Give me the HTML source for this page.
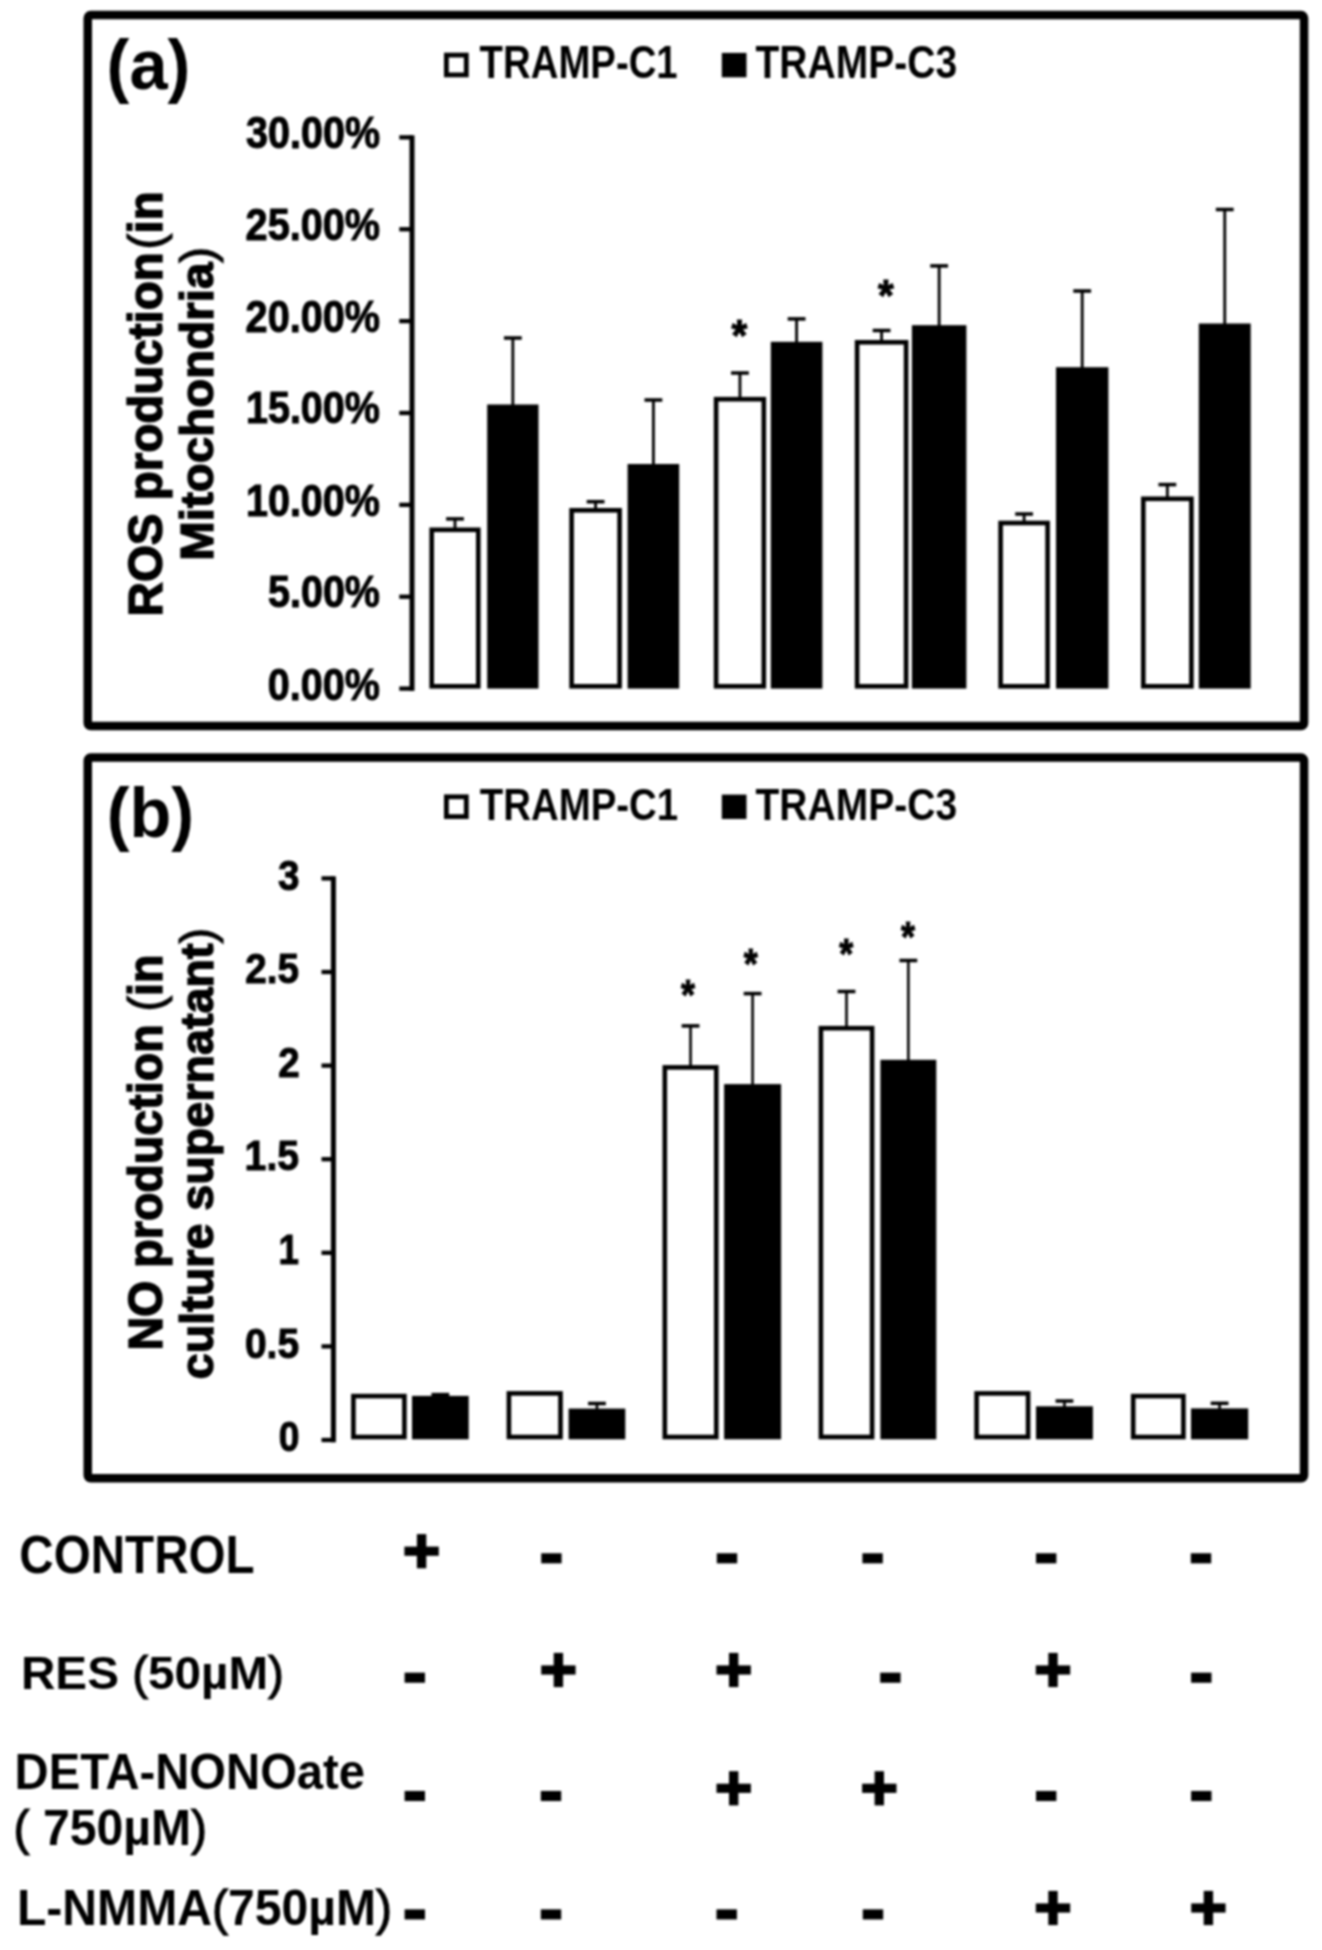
<!DOCTYPE html>
<html><head><meta charset="utf-8"><title>ROS and NO production in TRAMP-C1 and TRAMP-C3 cells</title>
<style>html,body{margin:0;padding:0;background:#fff;}body{width:1322px;height:1950px;overflow:hidden;}svg{display:block;filter:grayscale(100%) blur(1px);}</style>
</head><body>
<svg width="1322" height="1950" viewBox="0 0 1322 1950">
<rect x="0" y="0" width="1322" height="1950" fill="#fff"/>
<g fill="#000">
<rect x="87.75" y="15.05" width="1216.30" height="711.00" rx="3" fill="none" stroke="#000" stroke-width="8.5"/>
<rect x="87.75" y="757.55" width="1216.30" height="720.80" rx="3" fill="none" stroke="#000" stroke-width="8.5"/>
<rect x="409.50" y="135.28" width="5.00" height="555.62"/>
<rect x="399.30" y="686.45" width="12.70" height="4.30"/>
<rect x="399.30" y="594.58" width="12.70" height="4.30"/>
<rect x="399.30" y="502.71" width="12.70" height="4.30"/>
<rect x="399.30" y="410.84" width="12.70" height="4.30"/>
<rect x="399.30" y="318.97" width="12.70" height="4.30"/>
<rect x="399.30" y="227.10" width="12.70" height="4.30"/>
<rect x="399.30" y="135.23" width="12.70" height="4.30"/>
<rect x="453.60" y="518.90" width="2.80" height="9.60"/>
<rect x="446.10" y="517.15" width="17.80" height="3.50"/>
<rect x="431.70" y="529.80" width="46.60" height="156.50" fill="#fff" stroke="#000" stroke-width="4.6"/>
<rect x="511.45" y="338.00" width="2.80" height="67.50"/>
<rect x="503.95" y="336.25" width="17.80" height="3.50"/>
<rect x="487.20" y="404.50" width="51.30" height="284.10"/>
<rect x="594.20" y="501.70" width="2.80" height="7.30"/>
<rect x="586.70" y="499.95" width="17.80" height="3.50"/>
<rect x="571.60" y="510.30" width="48.00" height="176.00" fill="#fff" stroke="#000" stroke-width="4.6"/>
<rect x="652.00" y="400.00" width="2.80" height="65.00"/>
<rect x="644.50" y="398.25" width="17.80" height="3.50"/>
<rect x="627.60" y="464.00" width="51.60" height="224.60"/>
<rect x="738.55" y="373.00" width="2.80" height="24.90"/>
<rect x="731.05" y="371.25" width="17.80" height="3.50"/>
<rect x="716.10" y="399.20" width="47.70" height="287.10" fill="#fff" stroke="#000" stroke-width="4.6"/>
<rect x="795.20" y="318.90" width="2.80" height="23.90"/>
<rect x="787.70" y="317.15" width="17.80" height="3.50"/>
<rect x="770.80" y="341.80" width="51.60" height="346.80"/>
<rect x="880.20" y="330.50" width="2.80" height="10.50"/>
<rect x="872.70" y="328.75" width="17.80" height="3.50"/>
<rect x="857.10" y="342.30" width="49.00" height="344.00" fill="#fff" stroke="#000" stroke-width="4.6"/>
<rect x="937.75" y="265.90" width="2.80" height="60.30"/>
<rect x="930.25" y="264.15" width="17.80" height="3.50"/>
<rect x="911.90" y="325.20" width="54.50" height="363.40"/>
<rect x="1022.70" y="514.00" width="2.80" height="7.70"/>
<rect x="1015.20" y="512.25" width="17.80" height="3.50"/>
<rect x="1000.60" y="523.00" width="47.00" height="163.30" fill="#fff" stroke="#000" stroke-width="4.6"/>
<rect x="1080.80" y="291.00" width="2.80" height="77.20"/>
<rect x="1073.30" y="289.25" width="17.80" height="3.50"/>
<rect x="1056.00" y="367.20" width="52.40" height="321.40"/>
<rect x="1165.95" y="484.60" width="2.80" height="12.90"/>
<rect x="1158.45" y="482.85" width="17.80" height="3.50"/>
<rect x="1143.30" y="498.80" width="48.10" height="187.50" fill="#fff" stroke="#000" stroke-width="4.6"/>
<rect x="1223.35" y="209.50" width="2.80" height="115.00"/>
<rect x="1215.85" y="207.75" width="17.80" height="3.50"/>
<rect x="1198.80" y="323.50" width="51.90" height="365.10"/>
<rect x="330.90" y="876.30" width="5.00" height="566.00"/>
<rect x="321.50" y="1437.85" width="11.90" height="4.30"/>
<rect x="321.50" y="1344.25" width="11.90" height="4.30"/>
<rect x="321.50" y="1250.65" width="11.90" height="4.30"/>
<rect x="321.50" y="1157.05" width="11.90" height="4.30"/>
<rect x="321.50" y="1063.45" width="11.90" height="4.30"/>
<rect x="321.50" y="969.85" width="11.90" height="4.30"/>
<rect x="321.50" y="876.25" width="11.90" height="4.30"/>
<rect x="353.40" y="1396.10" width="51.00" height="40.90" fill="#fff" stroke="#000" stroke-width="4.6"/>
<rect x="439.05" y="1394.60" width="2.60" height="2.30"/>
<rect x="431.45" y="1392.85" width="17.80" height="3.50"/>
<rect x="412.00" y="1395.90" width="56.70" height="43.40"/>
<rect x="508.90" y="1393.40" width="51.60" height="43.60" fill="#fff" stroke="#000" stroke-width="4.6"/>
<rect x="595.65" y="1403.50" width="2.60" height="6.10"/>
<rect x="588.05" y="1401.75" width="17.80" height="3.50"/>
<rect x="568.60" y="1408.60" width="56.70" height="30.70"/>
<rect x="689.25" y="1025.90" width="2.60" height="40.20"/>
<rect x="681.65" y="1024.15" width="17.80" height="3.50"/>
<rect x="664.80" y="1067.40" width="51.50" height="369.60" fill="#fff" stroke="#000" stroke-width="4.6"/>
<rect x="751.30" y="993.60" width="2.60" height="91.50"/>
<rect x="743.70" y="991.85" width="17.80" height="3.50"/>
<rect x="724.10" y="1084.10" width="57.00" height="355.20"/>
<rect x="845.20" y="991.50" width="2.60" height="35.40"/>
<rect x="837.60" y="989.75" width="17.80" height="3.50"/>
<rect x="820.90" y="1028.20" width="51.20" height="408.80" fill="#fff" stroke="#000" stroke-width="4.6"/>
<rect x="907.05" y="960.50" width="2.60" height="100.30"/>
<rect x="899.45" y="958.75" width="17.80" height="3.50"/>
<rect x="880.40" y="1059.80" width="55.90" height="379.50"/>
<rect x="976.60" y="1393.40" width="51.50" height="43.60" fill="#fff" stroke="#000" stroke-width="4.6"/>
<rect x="1063.15" y="1401.00" width="2.60" height="6.30"/>
<rect x="1055.55" y="1399.25" width="17.80" height="3.50"/>
<rect x="1036.00" y="1406.30" width="56.90" height="33.00"/>
<rect x="1133.20" y="1396.10" width="50.20" height="40.90" fill="#fff" stroke="#000" stroke-width="4.6"/>
<rect x="1218.30" y="1403.30" width="2.60" height="6.10"/>
<rect x="1210.70" y="1401.55" width="17.80" height="3.50"/>
<rect x="1191.00" y="1408.40" width="57.20" height="30.90"/>
<rect x="446.40" y="55.10" width="19.90" height="19.80" fill="#fff" stroke="#000" stroke-width="4.8"/>
<rect x="721.80" y="52.90" width="24.70" height="24.40"/>
<rect x="446.40" y="796.80" width="19.90" height="19.80" fill="#fff" stroke="#000" stroke-width="4.8"/>
<rect x="721.80" y="794.60" width="24.70" height="24.40"/>
<rect x="404.40" y="1546.60" width="34.40" height="9.20"/>
<rect x="416.90" y="1534.10" width="9.40" height="34.20"/>
<rect x="541.20" y="1553.25" width="20.40" height="10.10"/>
<rect x="716.80" y="1553.25" width="20.40" height="10.10"/>
<rect x="862.40" y="1553.25" width="20.40" height="10.10"/>
<rect x="1036.00" y="1553.25" width="20.40" height="10.10"/>
<rect x="1190.80" y="1553.25" width="20.40" height="10.10"/>
<rect x="404.60" y="1672.65" width="20.40" height="10.10"/>
<rect x="541.20" y="1665.40" width="34.40" height="9.20"/>
<rect x="553.70" y="1652.90" width="9.40" height="34.20"/>
<rect x="716.50" y="1665.40" width="34.40" height="9.20"/>
<rect x="729.00" y="1652.90" width="9.40" height="34.20"/>
<rect x="880.20" y="1672.65" width="20.40" height="10.10"/>
<rect x="1035.80" y="1665.40" width="34.40" height="9.20"/>
<rect x="1048.30" y="1652.90" width="9.40" height="34.20"/>
<rect x="1191.10" y="1672.65" width="20.40" height="10.10"/>
<rect x="404.60" y="1790.95" width="20.40" height="10.10"/>
<rect x="540.80" y="1790.95" width="20.40" height="10.10"/>
<rect x="716.50" y="1783.70" width="34.40" height="9.20"/>
<rect x="729.00" y="1771.20" width="9.40" height="34.20"/>
<rect x="862.10" y="1783.70" width="34.40" height="9.20"/>
<rect x="874.60" y="1771.20" width="9.40" height="34.20"/>
<rect x="1036.00" y="1790.95" width="20.40" height="10.10"/>
<rect x="1191.10" y="1790.95" width="20.40" height="10.10"/>
<rect x="404.60" y="1909.35" width="20.40" height="10.10"/>
<rect x="540.80" y="1909.35" width="20.40" height="10.10"/>
<rect x="716.50" y="1909.35" width="20.40" height="10.10"/>
<rect x="862.80" y="1909.35" width="20.40" height="10.10"/>
<rect x="1035.80" y="1903.40" width="34.40" height="9.20"/>
<rect x="1048.30" y="1890.90" width="9.40" height="34.20"/>
<rect x="1191.20" y="1903.40" width="34.40" height="9.20"/>
<rect x="1203.70" y="1890.90" width="9.40" height="34.20"/>
</g>
<g fill="#000" font-family="Liberation Sans, sans-serif" font-weight="bold">
<text transform="matrix(0.68597,0,0,0.71207,106.57,88.62)" font-size="100" >(a)</text>
<text transform="matrix(0.68461,0,0,0.70376,106.77,837.22)" font-size="100" >(b)</text>
<text transform="matrix(0.38343,0,0,0.45446,479.61,77.93)" font-size="100" >TRAMP-C1</text>
<text transform="matrix(0.39063,0,0,0.45446,755.41,77.93)" font-size="100" >TRAMP-C3</text>
<text transform="matrix(0.38382,0,0,0.44851,479.81,819.72)" font-size="100" >TRAMP-C1</text>
<text transform="matrix(0.39062,0,0,0.44851,755.41,819.72)" font-size="100" >TRAMP-C3</text>
<text transform="matrix(0.39549,0,0,0.43902,267.87,699.78)" font-size="100" stroke="#000" stroke-width="2.4">0.00%</text>
<text transform="matrix(0.39515,0,0,0.43902,267.97,607.27)" font-size="100" stroke="#000" stroke-width="2.4">5.00%</text>
<text transform="matrix(0.39554,0,0,0.43902,245.91,515.84)" font-size="100" stroke="#000" stroke-width="2.4">10.00%</text>
<text transform="matrix(0.39554,0,0,0.43902,245.91,423.33)" font-size="100" stroke="#000" stroke-width="2.4">15.00%</text>
<text transform="matrix(0.39642,0,0,0.43902,245.61,331.86)" font-size="100" stroke="#000" stroke-width="2.4">20.00%</text>
<text transform="matrix(0.39642,0,0,0.43902,245.61,240.35)" font-size="100" stroke="#000" stroke-width="2.4">25.00%</text>
<text transform="matrix(0.39501,0,0,0.43902,246.09,147.88)" font-size="100" stroke="#000" stroke-width="2.4">30.00%</text>
<text transform="matrix(0.37246,0,0,0.42875,278.85,1451.32)" font-size="100" stroke="#000" stroke-width="2.4">0</text>
<text transform="matrix(0.38998,0,0,0.42875,244.88,1357.89)" font-size="100" stroke="#000" stroke-width="2.4">0.5</text>
<text transform="matrix(0.36782,0,0,0.43411,278.62,1264.20)" font-size="100" stroke="#000" stroke-width="2.4">1</text>
<text transform="matrix(0.39220,0,0,0.42408,244.58,1170.26)" font-size="100" stroke="#000" stroke-width="2.4">1.5</text>
<text transform="matrix(0.38541,0,0,0.42408,278.19,1077.26)" font-size="100" stroke="#000" stroke-width="2.4">2</text>
<text transform="matrix(0.38712,0,0,0.42875,245.28,983.32)" font-size="100" stroke="#000" stroke-width="2.4">2.5</text>
<text transform="matrix(0.38718,0,0,0.42875,277.90,889.89)" font-size="100" stroke="#000" stroke-width="2.4">3</text>
<text transform="matrix(0,-0.47515,0.48252,0,162.23,616.41)" font-size="100" stroke="#000" stroke-width="3.0">ROS production<tspan dx="6.00"><tspan font-weight="normal" stroke="#000" stroke-width="2.5">(</tspan>in</tspan></text>
<text transform="matrix(0,-0.47494,0.46387,0,213.00,560.81)" font-size="100" stroke="#000" stroke-width="3.0">Mitochondria<tspan font-weight="normal" stroke="#000" stroke-width="2.5">)</tspan></text>
<text transform="matrix(0,-0.46620,0.48710,0,161.61,1350.55)" font-size="100" stroke="#000" stroke-width="3.0">NO production <tspan font-weight="normal" stroke="#000" stroke-width="2.5">(</tspan>in</text>
<text transform="matrix(0,-0.46688,0.46482,0,213.06,1379.27)" font-size="100" stroke="#000" stroke-width="3.0">culture supernatant<tspan font-weight="normal" stroke="#000" stroke-width="2.5">)</tspan></text>
<text transform="matrix(0.47615,0,0,0.53473,19.29,1572.50)" font-size="100" >CONTROL</text>
<text transform="matrix(0.47637,0,0,0.46885,20.98,1689.08)" font-size="100" >RES <tspan font-weight="normal" stroke="#000" stroke-width="2.5">(</tspan>50µM<tspan font-weight="normal" stroke="#000" stroke-width="2.5">)</tspan></text>
<text transform="matrix(0.47208,0,0,0.50337,14.61,1789.11)" font-size="100" >DETA-NONOate</text>
<text transform="matrix(0.48124,0,0,0.49275,13.51,1844.66)" font-size="100" ><tspan font-weight="normal" stroke="#000" stroke-width="2.5">(</tspan> 750µM<tspan font-weight="normal" stroke="#000" stroke-width="2.5">)</tspan></text>
<text transform="matrix(0.48120,0,0,0.50262,16.95,1924.97)" font-size="100" >L-NMMA<tspan font-weight="normal" stroke="#000" stroke-width="2.5">(</tspan>750µM<tspan font-weight="normal" stroke="#000" stroke-width="2.5">)</tspan></text>
<text transform="matrix(0.40461,0,0,0.44920,731.61,350.55)" font-size="100" stroke="#000" stroke-width="2.4">*</text>
<text transform="matrix(0.40461,0,0,0.44920,878.06,310.54)" font-size="100" stroke="#000" stroke-width="2.4">*</text>
<text transform="matrix(0.35963,0,0,0.42278,680.94,1009.25)" font-size="100" stroke="#000" stroke-width="2.4">*</text>
<text transform="matrix(0.35963,0,0,0.42278,743.76,978.25)" font-size="100" stroke="#000" stroke-width="2.4">*</text>
<text transform="matrix(0.35963,0,0,0.42278,839.37,967.65)" font-size="100" stroke="#000" stroke-width="2.4">*</text>
<text transform="matrix(0.35963,0,0,0.42278,900.94,950.65)" font-size="100" stroke="#000" stroke-width="2.4">*</text>
</g>
</svg>
</body></html>
